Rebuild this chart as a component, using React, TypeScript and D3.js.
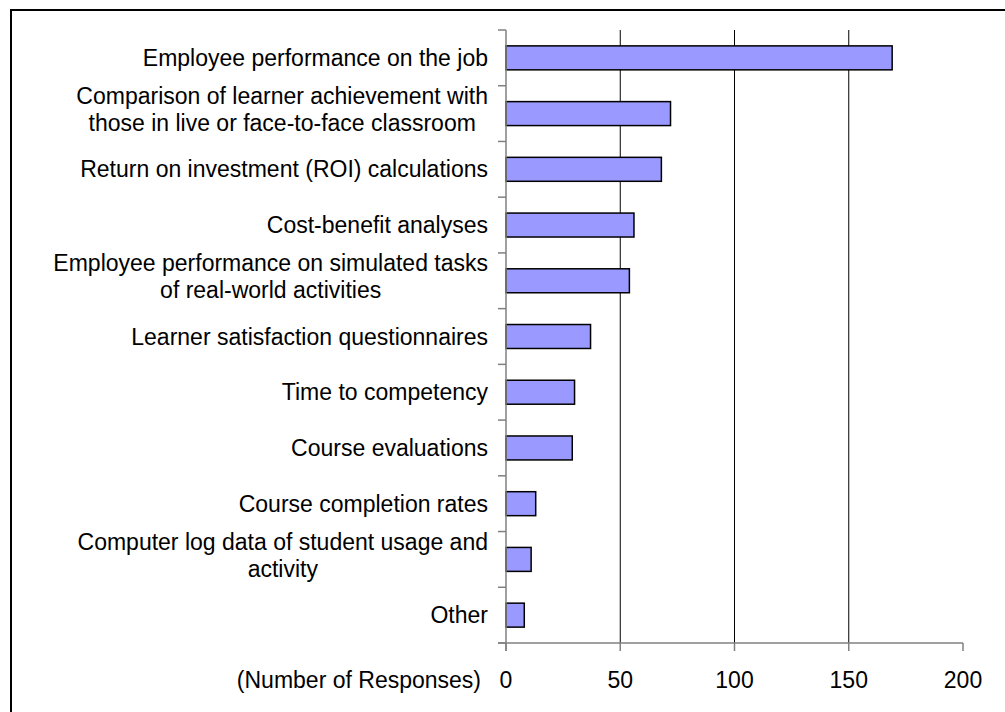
import React from "react";
import * as d3 from "d3";

const categories: string[][] = [
  ["Employee performance on the job"],
  ["Comparison of learner achievement with", "those in live or face-to-face classroom"],
  ["Return on investment (ROI) calculations"],
  ["Cost-benefit analyses"],
  ["Employee performance on simulated tasks", "of real-world activities"],
  ["Learner satisfaction questionnaires"],
  ["Time to competency"],
  ["Course evaluations"],
  ["Course completion rates"],
  ["Computer log data of student usage and", "activity"],
  ["Other"],
];
const values: number[] = [169, 72, 68, 56, 54, 37, 30, 29, 13, 11, 8];
const xTicks: number[] = [0, 50, 100, 150, 200];
const axisTitle = "(Number of Responses)";

let ctx: CanvasRenderingContext2D | null = null;
function measure(text: string, font: string): number {
  if (!ctx) {
    const c = document.createElement("canvas");
    ctx = c.getContext("2d");
  }
  if (!ctx) return text.length * 10;
  ctx.font = font;
  return ctx.measureText(text).width;
}

export default function App() {
  const W = 1005;
  const H = 712;
  const left = 506;
  const right = 963;
  const top = 30;
  const bottom = 643;
  const x = d3.scaleLinear().domain([0, 200]).range([left, right]);
  const y = d3
    .scaleBand<number>()
    .domain(d3.range(categories.length))
    .range([top, bottom])
    .paddingInner(0.57)
    .paddingOuter(0.285);
  const band = (bottom - top) / categories.length;
  const font = "Arial, 'Liberation Sans', sans-serif";
  const fs = 23;
  const lineH = 27;
  const labelRight = 488;
  return (
    <svg
      width={W}
      height={H}
      style={{ position: "absolute", left: 0, top: 0 }}
      fontFamily={font}
    >
      <rect x={0} y={0} width={W} height={H} fill="#fff" />
      <rect x={11} y={10} width={1010} height={720} fill="none" stroke="#000" strokeWidth={2} />
      {xTicks.slice(1, -1).map((t) => (
        <line key={"g" + t} x1={x(t)} x2={x(t)} y1={top} y2={bottom} stroke="#000" strokeWidth={1} />
      ))}
      {values.map((v, i) => (
        <rect
          key={"b" + i}
          x={x(0)}
          y={y(i)!}
          width={x(v) - x(0)}
          height={y.bandwidth()}
          fill="#9999FF"
          stroke="#000"
          strokeWidth={1.5}
        />
      ))}
      <line x1={left} x2={left} y1={top} y2={bottom + 8} stroke="#808080" strokeWidth={1.5} />
      <line x1={left - 8} x2={right} y1={bottom} y2={bottom} stroke="#808080" strokeWidth={1.5} />
      {d3.range(categories.length + 1).map((i) => (
        <line
          key={"yt" + i}
          x1={left - 8}
          x2={left}
          y1={top + i * band}
          y2={top + i * band}
          stroke="#808080"
          strokeWidth={1.5}
        />
      ))}
      {xTicks.map((t) => (
        <line key={"xt" + t} x1={x(t)} x2={x(t)} y1={bottom} y2={bottom + 8} stroke="#808080" strokeWidth={1.5} />
      ))}
      {categories.map((lines, i) => {
        const cy = top + (i + 0.5) * band;
        const n = lines.length;
        const maxW = Math.max(...lines.map((l) => measure(l, `${fs}px Arial, 'Liberation Sans', sans-serif`)));
        const multi = n > 1;
        const tx = multi ? labelRight - maxW / 2 : labelRight;
        return (
          <text key={"c" + i} textAnchor={multi ? "middle" : "end"} fontSize={fs} fill="#000">
            {lines.map((l, j) => (
              <tspan
                key={j}
                x={tx}
                y={cy + (j - (n - 1) / 2) * lineH - (multi ? 4 : 0)}
                dy="0.35em"
              >
                {l}
              </tspan>
            ))}
          </text>
        );
      })}
      {xTicks.map((t) => (
        <text key={"xl" + t} x={x(t)} y={688} textAnchor="middle" fontSize={fs} fill="#000">
          {t}
        </text>
      ))}
      <text x={481} y={688} textAnchor="end" fontSize={fs} fill="#000">
        {axisTitle}
      </text>
    </svg>
  );
}
